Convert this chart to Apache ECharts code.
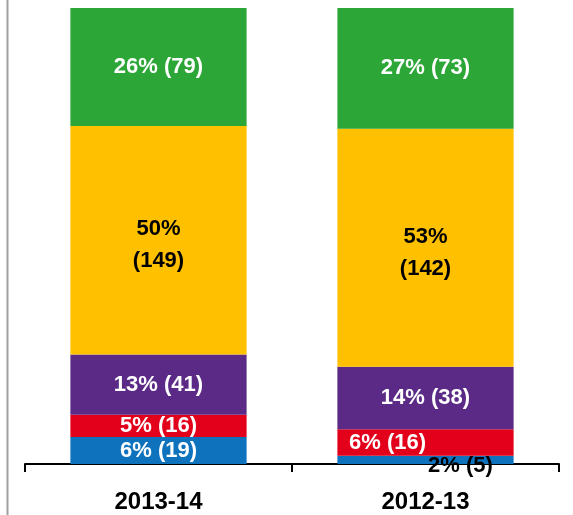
<!DOCTYPE html>
<html>
<head>
<meta charset="utf-8">
<script src="https://cdn.jsdelivr.net/npm/echarts@6/dist/echarts.min.js"></script>
<style>
  html, body { margin: 0; padding: 0; background: #fff; }
  #myChart { width: 573px; height: 515px; }
</style>
</head>
<body>
<div id="myChart"></div>
<script>
// categories, bottom segment first
const categories = ["2013-14", "2012-13"];
// segment shares (% of bar)
const blueShare = [5.9, 1.8];
const redShare = [4.9, 5.8];
const purpleShare = [13.2, 13.7];
const yellowShare = [50.1, 52.2];
const greenShare = [25.9, 26.5];
// percentages and counts as printed on the chart
const bluePct = [6, 2];
const redPct = [5, 6];
const purplePct = [13, 14];
const yellowPct = [50, 53];
const greenPct = [26, 27];
const blueCounts = [19, 5];
const redCounts = [16, 16];
const purpleCounts = [41, 38];
const yellowCounts = [149, 142];
const greenCounts = [79, 73];

const font = '"Liberation Sans", Arial, sans-serif';

const makeSeries = (name, share, pct, counts, color, labelColor, opts) => ({
  name: name,
  type: "bar",
  stack: "total",
  barWidth: "66%",
  itemStyle: { color: color },
  label: {
    show: true,
    color: labelColor,
    fontFamily: font,
    fontWeight: "bold",
    fontSize: 22,
    lineHeight: 32,
    offset: opts && opts.offset,
    formatter: (p) => {
      const i = p.dataIndex;
      return opts && opts.twoLine
        ? pct[i] + "%\n(" + counts[i] + ")"
        : pct[i] + "% (" + counts[i] + ")";
    },
  },
  data: share.map((v, i) => {
    const d = { value: v };
    if (opts && opts.labels && opts.labels[i]) {
      d.label = opts.labels[i];
    }
    return d;
  }),
});

const myChart = echarts.init(document.getElementById("myChart"));
myChart.setOption({
  animation: false,
  grid: { left: 25, right: 14, top: 8, bottom: 51 },
  xAxis: {
    type: "category",
    data: categories,
    axisLine: { show: true, lineStyle: { color: "#000", width: 2 } },
    axisTick: { show: true, length: 8, lineStyle: { color: "#000", width: 2 } },
    axisLabel: {
      color: "#000",
      fontFamily: font,
      fontWeight: "bold",
      fontSize: 24,
      margin: 26,
    },
  },
  yAxis: { type: "value", min: 0, max: 100, show: false },
  graphic: [
    {
      type: "line",
      shape: { x1: 7.5, y1: 0, x2: 7.5, y2: 515 },
      style: { stroke: "#a0a0a0", lineWidth: 2 },
    },
  ],
  series: [
    makeSeries("blue", blueShare, bluePct, blueCounts, "#0f72bd", "#fff", {
      labels: [null, { offset: [35, 6], color: "#000" }],
    }),
    makeSeries("red", redShare, redPct, redCounts, "#e2001a", "#fff", {
      labels: [null, { offset: [-38, 0] }],
    }),
    makeSeries("purple", purpleShare, purplePct, purpleCounts, "#5b2a86", "#fff"),
    makeSeries("yellow", yellowShare, yellowPct, yellowCounts, "#ffc000", "#000", {
      twoLine: true,
      offset: [0, 5],
    }),
    makeSeries("green", greenShare, greenPct, greenCounts, "#2ba637", "#fff"),
  ],
});
</script>
</body>
</html>
